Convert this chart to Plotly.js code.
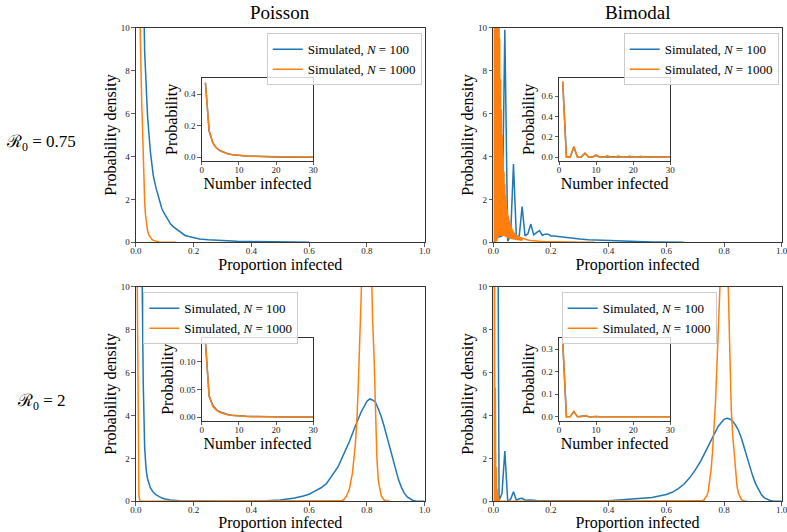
<!DOCTYPE html>
<html><head><meta charset="utf-8">
<script src="https://cdn.plot.ly/plotly-3.0.1.min.js"></script>
<style>html,body{margin:0;padding:0;background:#fff}#chart{width:787px;height:532px}</style>
</head><body><div id="chart"></div>
<script>
// ---------- DATA ----------
const colTitles = ["Poisson", "Bimodal"];
const rowTitles = ["ℛ<sub>0</sub> = 0.75", "ℛ<sub>0</sub> = 2"];
const seriesNames = ["Simulated, <i>N</i> = 100", "Simulated, <i>N</i> = 1000"];
const xTicks = [0, 0.2, 0.4, 0.6, 0.8, 1.0];
const yTicks = [0, 2, 4, 6, 8, 10];
const insetK = [1,2,3,4,5,6,7,8,9,10,11,12,13,14,15,16,17,18,19,20,21,22,23,24,25,26,27,28,29,30];

// Top-left: Poisson, R0 = 0.75
const tlBlueX = [0.01,0.02,0.03,0.04,0.05,0.06,0.07,0.08,0.09,0.10,0.11,0.12,0.13,0.14,0.15,0.16,0.17,0.18,0.20,0.22,0.25,0.28,0.30,0.35,0.40,0.45,0.50,0.55,0.60];
const tlBlueY = [47,16.7,8.9,5.9,4.2,3.1,2.5,2.0,1.55,1.3,1.05,0.85,0.72,0.62,0.52,0.38,0.32,0.28,0.22,0.16,0.12,0.09,0.075,0.05,0.035,0.022,0.014,0.008,0.003];
const tlOrangeX = [0.001,0.002,0.003,0.004,0.005,0.006,0.007,0.008,0.009,0.010,0.012,0.014,0.016,0.018,0.020,0.022,0.024,0.026,0.028,0.030,0.032,0.034,0.036,0.040,0.045,0.050,0.055,0.060,0.070,0.080,0.100,0.120,0.140];
const tlOrangeY = [470,170,90,58,40,30,24,19,16,14,11.5,9.9,8.5,7.3,6.4,5.6,4.4,3.3,2.5,1.9,1.4,1.1,0.85,0.55,0.33,0.22,0.14,0.09,0.04,0.02,0.008,0.003,0.0];
const tlInsetBlue = [0.474,0.166,0.091,0.058,0.041,0.029,0.022,0.017,0.013,0.011,0.009,0.0075,0.0063,0.0053,0.0045,0.0038,0.0032,0.0028,0.0024,0.002,0.0017,0.0015,0.0013,0.0011,0.001,0.0008,0.0007,0.0006,0.0005,0.0004];
const tlInsetOrange = [0.472,0.168,0.09,0.057,0.04,0.029,0.022,0.017,0.014,0.0115,0.0095,0.008,0.0068,0.0058,0.005,0.0044,0.0039,0.0034,0.003,0.0027,0.0024,0.0021,0.0019,0.0017,0.0015,0.0014,0.0012,0.0011,0.001,0.0009];

// Top-right: Bimodal, R0 = 0.75
const trBlueX = [0.01,0.02,0.03,0.04,0.05,0.06,0.07,0.08,0.09,0.10,0.11,0.12,0.13,0.14,0.15,0.16,0.17,0.18,0.19,0.20,0.21,0.22,0.24,0.26,0.28,0.30,0.33,0.36,0.40,0.45,0.50,0.55,0.60,0.66];
const trBlueY = [74,0.25,0.3,9.9,0.05,0.3,3.65,0.25,0.3,1.66,0.3,0.4,0.85,0.35,0.45,0.55,0.33,0.38,0.38,0.3,0.3,0.28,0.24,0.21,0.18,0.15,0.12,0.1,0.07,0.05,0.035,0.02,0.012,0.005];
const trOrangeHeadY = [740,0,0,100,0,0,40,0,0,22,0.1,0.1,15,0.15,0.2,12,0.3,0.3,11,0.3,0.3,9.5,0.3,0.3,7.6,0.3,0.3,6.2,0.3,0.3,5.0,0.3,0.3,4.0,0.3,0.3,3.3,0.28,0.28,2.7,0.26,0.26,2.2,0.24,0.24,1.8,0.22,0.22,1.5,0.2,0.2,1.25,0.18,0.18,1.05,0.17,0.17,0.9,0.16,0.16,0.78,0.15,0.15,0.67,0.14,0.14,0.58,0.13,0.13,0.5,0.12,0.12,0.44,0.12,0.12,0.4,0.11,0.11,0.36,0.1,0.1,0.33,0.1,0.1,0.3,0.1,0.1,0.28,0.09,0.09,0.26,0.09,0.09,0.24,0.08,0.08,0.22,0.08,0.08,0.2];
const trOrangeTailX = [0.11,0.12,0.13,0.14,0.16,0.18,0.20,0.25,0.30,0.35];
const trOrangeTailY = [0.14,0.11,0.09,0.07,0.05,0.035,0.025,0.01,0.004,0.0];
const trInsetBlue = [0.742,0.002,0.003,0.1,0.0005,0.003,0.037,0.0025,0.003,0.017,0.003,0.004,0.0085,0.0035,0.0045,0.0055,0.0033,0.0038,0.0038,0.003,0.003,0.0028,0.0026,0.0024,0.0022,0.0021,0.002,0.0018,0.0017,0.0015];
const trInsetOrange = [0.745,0,0,0.105,0,0,0.042,0,0,0.023,0.0001,0.0001,0.015,0.0002,0.0002,0.012,0.0003,0.0003,0.011,0.0003,0.0003,0.0095,0.0003,0.0003,0.0076,0.0003,0.0003,0.0062,0.0003,0.0003];

// Bottom-left: Poisson, R0 = 2
const blBlueX = [0.01,0.02,0.025,0.03,0.035,0.04,0.05,0.06,0.07,0.08,0.09,0.10,0.12,0.15,0.20,0.25,0.30,0.35,0.40,0.45,0.50,0.55,0.58,0.60,0.62,0.64,0.66,0.68,0.70,0.72,0.74,0.76,0.78,0.80,0.81,0.82,0.83,0.84,0.85,0.86,0.87,0.88,0.89,0.90,0.91,0.92,0.93,0.94,0.95,0.96,0.97,0.98,1.00];
const blBlueY = [40,12,5.6,2.5,1.5,1.05,0.62,0.42,0.3,0.21,0.15,0.11,0.06,0.03,0.012,0.006,0.004,0.005,0.01,0.025,0.06,0.15,0.25,0.33,0.47,0.62,0.82,1.2,1.6,2.2,2.8,3.5,4.15,4.65,4.77,4.72,4.62,4.3,3.95,3.5,3.0,2.55,2.0,1.5,1.0,0.65,0.38,0.2,0.1,0.04,0.02,0.01,0.0];
const blOrangeX = [0.001,0.002,0.003,0.004,0.005,0.006,0.007,0.008,0.009,0.010,0.012,0.015,0.020,0.10,0.30,0.50,0.60,0.70,0.71,0.72,0.73,0.74,0.75,0.76,0.765,0.77,0.775,0.78,0.785,0.79,0.795,0.80,0.805,0.81,0.815,0.82,0.825,0.83,0.835,0.84,0.845,0.85,0.86,0.87,0.88];
const blOrangeY = [137,37,18,12,9,6,3.5,1.3,0.6,0.3,0.1,0.02,0,0,0,0,0,0,0.02,0.07,0.25,0.6,1.3,2.6,3.6,5.2,7.8,11,13.5,16,17.5,17.8,17,15,11.5,8.5,6.8,4.0,2.0,0.95,0.5,0.25,0.06,0.01,0];
const blInsetBlue = [0.136,0.038,0.021,0.013,0.009,0.0062,0.0045,0.0034,0.0026,0.002,0.0015,0.0012,0.0009,0.0007,0.0006,0.0005,0.0004,0.0003,0.0003,0.0002,0.0002,0.0002,0.0001,0.0001,0.0001,0.0001,0.0001,0.0001,0.0001,0.0001];
const blInsetOrange = [0.137,0.037,0.019,0.012,0.008,0.0055,0.004,0.003,0.0022,0.0017,0.0013,0.001,0.0008,0.0006,0.0005,0.0004,0.0003,0.0003,0.0002,0.0002,0.0002,0.0001,0.0001,0.0001,0.0001,0.0001,0.0001,0.0001,0.0001,0.0001];

// Bottom-right: Bimodal, R0 = 2
const brBlueX = [0.01,0.02,0.03,0.04,0.05,0.06,0.07,0.08,0.09,0.10,0.11,0.12,0.13,0.15,0.20,0.30,0.40,0.50,0.55,0.60,0.62,0.64,0.66,0.68,0.70,0.72,0.74,0.76,0.78,0.80,0.81,0.82,0.83,0.84,0.85,0.86,0.87,0.88,0.89,0.90,0.91,0.92,0.93,0.94,0.95,0.96,0.97,0.98,1.00];
const brBlueY = [33,0.05,0.35,2.34,0.0,0.1,0.45,0.05,0.12,0.14,0.05,0.06,0.06,0.04,0.03,0.02,0.03,0.12,0.18,0.32,0.42,0.58,0.78,1.08,1.45,1.9,2.45,3.0,3.5,3.82,3.87,3.84,3.73,3.55,3.3,2.95,2.5,2.0,1.55,1.15,0.8,0.52,0.3,0.16,0.08,0.04,0.015,0.005,0.0];
const brOrangeX = [0.001,0.002,0.003,0.004,0.005,0.006,0.007,0.008,0.009,0.010,0.011,0.012,0.013,0.014,0.015,0.016,0.017,0.018,0.019,0.020,0.10,0.30,0.50,0.60,0.70,0.71,0.72,0.73,0.74,0.745,0.75,0.755,0.76,0.765,0.77,0.775,0.78,0.785,0.79,0.795,0.80,0.805,0.81,0.815,0.82,0.825,0.83,0.835,0.84,0.845,0.85,0.855,0.86,0.87,0.88];
const brOrangeY = [333,0,0,25,0,0,5.3,0,0,1.6,0,0,0.6,0,0,0.3,0,0,0.15,0,0,0,0,0,0,0.01,0.02,0.06,0.25,0.45,0.85,1.45,2.3,3.3,4.5,6.2,8.3,10.5,13,14.5,15,14.5,12.5,10,6.3,4.3,3.1,2.2,1.3,0.7,0.38,0.18,0.08,0.02,0];
const brInsetBlue = [0.333,0.0005,0.001,0.023,0,0.001,0.0045,0.0005,0.0012,0.0014,0.0005,0.0006,0.0006,0.0005,0.0004,0.0004,0.0004,0.0004,0.0003,0.0003,0.0003,0.0003,0.0003,0.0003,0.0003,0.0003,0.0003,0.0003,0.0003,0.0003];
const brInsetOrange = [0.333,0,0,0.024,0,0,0.006,0,0,0.0025,0,0,0.0012,0,0,0.0007,0,0,0.0004,0,0,0.0003,0,0,0.0002,0,0,0.0001,0,0];

// ---------- BUILD ----------
const FONT = "'Liberation Serif', 'DejaVu Serif', serif";
const BLUE = '#1f77b4', ORANGE = '#ff7f0e';
const trOrangeX = trOrangeHeadY.map((v, i) => (i + 1) / 1000).concat(trOrangeTailX);
const trOrangeY = trOrangeHeadY.concat(trOrangeTailY);

const panels = [
  {blue:[tlBlueX,tlBlueY], orange:[tlOrangeX,tlOrangeY], ib:tlInsetBlue, io:tlInsetOrange},
  {blue:[trBlueX,trBlueY], orange:[trOrangeX,trOrangeY], ib:trInsetBlue, io:trInsetOrange},
  {blue:[blBlueX,blBlueY], orange:[blOrangeX,blOrangeY], ib:blInsetBlue, io:blInsetOrange},
  {blue:[brBlueX,brBlueY], orange:[brOrangeX,brOrangeY], ib:brInsetBlue, io:brInsetOrange}
];
const xDom = [[0.1728,0.5394],[0.6268,0.9933]];
const yDom = [[0.5445,0.9479],[0.0577,0.4611]];
const ixDom = [[0.2563,0.3981],[0.7103,0.8517]];
const iyDom = [[0.6974,0.8539],[0.2090,0.3652]];
const insetRange = [[-0.024,0.505],[-0.037,0.782],[-0.0069,0.1438],[-0.0177,0.35]];
const insetDtick = [0.2,0.2,0.05,0.1];
const insetFmt = ['.1f','.1f','.2f','.1f'];
const legendPos = [[0.3389,0.9374],[0.7925,0.9374],[0.1821,0.4506],[0.7137,0.4506]];

const data = [];
const layout = {
  width: 787, height: 532, margin: {l:0,r:0,t:0,b:0},
  paper_bgcolor: '#fff', plot_bgcolor: 'rgba(0,0,0,0)',
  font: {family: FONT, color: '#000'},
  showlegend: true, annotations: []
};
function axisBase() {
  return {showline:true, mirror:true, linecolor:'#333', linewidth:1, showgrid:false, zeroline:false,
    ticks:'outside', ticklen:3.5, tickwidth:0.8, tickcolor:'#333', tickfont:{size:9, family:FONT, color:'#222'},
    automargin:false, fixedrange:true, ticklabeloverflow:'allow'};
}
panels.forEach((p, i) => {
  const col = i % 2, row = Math.floor(i / 2);
  const mi = 2 * i + 1, ii = 2 * i + 2;
  const mx = 'x' + (mi === 1 ? '' : mi), my = 'y' + (mi === 1 ? '' : mi);
  const ix = 'x' + ii, iy = 'y' + ii;
  const leg = 'legend' + (i === 0 ? '' : (i + 1));
  data.push({x:p.blue[0], y:p.blue[1], xaxis:mx, yaxis:my, type:'scatter', mode:'lines', name:seriesNames[0],
    line:{color:BLUE, width:1.5}, legend:leg});
  data.push({x:p.orange[0], y:p.orange[1], xaxis:mx, yaxis:my, type:'scatter', mode:'lines', name:seriesNames[1],
    line:{color:ORANGE, width:1.5}, legend:leg});
  data.push({x:insetK, y:p.ib, xaxis:ix, yaxis:iy, type:'scatter', mode:'lines', line:{color:BLUE, width:1.5}, showlegend:false});
  data.push({x:insetK, y:p.io, xaxis:ix, yaxis:iy, type:'scatter', mode:'lines', line:{color:ORANGE, width:1.5}, showlegend:false});

  layout['xaxis' + (mi === 1 ? '' : mi)] = Object.assign(axisBase(), {domain:xDom[col], range:[0,1], anchor:my,
    tickvals:xTicks, tickformat:'.1f', ticklabelstandoff:-4,
    title:{text:'Proportion infected', font:{size:16, family:FONT}, standoff:0}});
  layout['yaxis' + (mi === 1 ? '' : mi)] = Object.assign(axisBase(), {domain:yDom[row], range:[0,10], anchor:mx,
    tickvals:yTicks,
    title:{text:'Probability density', font:{size:16, family:FONT}, standoff:0}});
  layout['xaxis' + ii] = Object.assign(axisBase(), {domain:ixDom[col], range:[0,30], anchor:iy,
    tickvals:[0,10,20,30], ticklabelstandoff:-3,
    title:{text:'Number infected', font:{size:16, family:FONT}, standoff:0}});
  layout['yaxis' + ii] = Object.assign(axisBase(), {domain:iyDom[row], range:insetRange[i], anchor:ix,
    dtick:insetDtick[i], tick0:0, tickformat:insetFmt[i],
    title:{text:'Probability', font:{size:16, family:FONT}, standoff:2}});
  layout[leg] = {x:legendPos[i][0], y:legendPos[i][1], xref:'paper', yref:'paper', xanchor:'left', yanchor:'top',
    bgcolor:'rgba(255,255,255,0.8)', bordercolor:'#cccccc', borderwidth:1, font:{size:13, family:FONT},
    tracegroupgap:0, itemwidth:30};
});
colTitles.forEach((t, c) => layout.annotations.push({text:t, xref:'paper', yref:'paper',
  x:(xDom[c][0] + xDom[c][1]) / 2, y:1, xanchor:'center', yanchor:'top', showarrow:false,
  font:{size:19, family:FONT}}));
rowTitles.forEach((t, r) => layout.annotations.push({text:t, xref:'paper', yref:'paper',
  x:41/787, y:1 - (r === 0 ? 143 : 402)/532, xanchor:'center', yanchor:'middle', showarrow:false,
  font:{size:17, family:FONT}}));

Plotly.newPlot('chart', data, layout, {staticPlot:true, displayModeBar:false});
</script></body></html>
